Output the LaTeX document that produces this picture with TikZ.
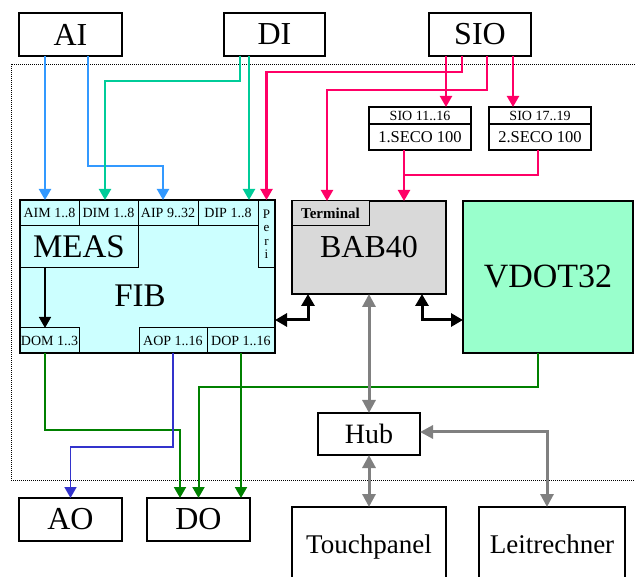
\documentclass[tikz,border=0pt]{standalone}
\usepackage{fontspec}
\setmainfont{Liberation Serif}
\usetikzlibrary{calc, positioning, arrows.meta}

\definecolor{fibcyan}{HTML}{CCFFFF}
\definecolor{babgray}{HTML}{D9D9D9}
\definecolor{vdotgreen}{HTML}{99FFCC}
\definecolor{aiblue}{HTML}{3399FF}
\definecolor{digreen}{HTML}{00CC99}
\definecolor{siopink}{HTML}{FF0066}
\definecolor{dogreen}{HTML}{008000}
\definecolor{aoblue}{HTML}{3333CC}
\definecolor{netgray}{HTML}{808080}

\begin{document}
\begin{tikzpicture}[
    x=1pt, y=1pt,
    box/.style={
        rectangle,
        draw,
        line width=1.3pt,
        inner sep=0pt,
        outer sep=0pt,
        anchor=north west,
        align=center
    },
    iobox/.style={
        box,
        minimum width=103pt,
        minimum height=43pt,
        font=\fontsize{32}{36}\selectfont
    },
    slot/.style={
        box,
        line width=1pt,
        minimum height=26pt,
        font=\fontsize{14}{15}\selectfont
    },
    pcbox/.style={
        box,
        minimum height=80pt,
        text height=19pt,
        text depth=6pt,
        font=\fontsize{27}{30}\selectfont
    },
    aiarr/.style={-{Triangle[length=11pt, width=12pt]}, line width=2.1pt, aiblue},
    diarr/.style={-{Triangle[length=11pt, width=12pt]}, line width=2.1pt, digreen},
    sioarr/.style={-{Triangle[length=11pt, width=12pt]}, line width=2.1pt, siopink},
    sioline/.style={line width=2.1pt, siopink},
    doarr/.style={-{Triangle[length=11pt, width=12pt]}, line width=2pt, dogreen},
    aoarr/.style={-{Triangle[length=11pt, width=12pt]}, line width=1.6pt, aoblue},
    ctrlarr/.style={{Triangle[length=12pt, width=13pt]}-{Triangle[length=12pt, width=13pt]}, line width=3pt},
    netarr/.style={{Triangle[length=13pt, width=13pt]}-{Triangle[length=13pt, width=13pt]}, line width=3pt, netgray}
]
\useasboundingbox (0,0) rectangle (635,-577);

% Frame
\draw[line width=0.8pt, dash pattern=on 1pt off 1pt] (635,-64) -| (11,-480) -- (635,-480);

% Signal sources
\node[iobox] (ai) at (19,-13) {AI};
\node[iobox, minimum width=101pt] (di) at (224,-13) {DI};
\node[iobox, minimum width=102pt] (sio) at (429,-13) {SIO};

% SECO modules
\node[box, minimum width=102pt, minimum height=17pt, font=\fontsize{14}{15}\selectfont] (seco1head) at (369,-107) {SIO 11..16};
\node[box, minimum width=102pt, minimum height=26pt, font=\fontsize{16.5}{18}\selectfont] (seco1) at (369,-124) {1.SECO 100};
\node[box, minimum width=102pt, minimum height=17pt, font=\fontsize{14}{15}\selectfont] (seco2head) at (489,-107) {SIO 17..19};
\node[box, minimum width=102pt, minimum height=26pt, font=\fontsize{16.5}{18}\selectfont] (seco2) at (489,-124) {2.SECO 100};

% FIB
\node[box, fill=fibcyan, minimum width=255pt, minimum height=153pt] (fib) at (20,-200) {};
\node[font=\fontsize{33}{36}\selectfont] (fibtext) at (140,-296) {FIB};
\node[slot, minimum width=59pt] (aim) at (20,-200) {AIM 1..8};
\node[slot, minimum width=59pt] (dim) at (79,-200) {DIM 1..8};
\node[slot, minimum width=60pt] (aip) at (138,-200) {AIP 9..32};
\node[slot, minimum width=60pt] (dip) at (198,-200) {DIP 1..8};
\node[slot, minimum width=17pt, minimum height=68pt, font=\fontsize{13}{13.5}\selectfont] (peri) at (258,-200) {P\\e\\r\\i};
\node[slot, minimum width=118pt, minimum height=42pt, font=\fontsize{33}{36}\selectfont] (meas) at (20,-226) {MEAS};
\node[slot, minimum width=59pt, minimum height=25pt] (dom) at (20,-328) {DOM 1..3};
\node[slot, minimum width=68pt, minimum height=25pt] (aop) at (139,-328) {AOP 1..16};
\node[slot, minimum width=68pt, minimum height=25pt] (dop) at (207,-328) {DOP 1..16};

% BAB40 and VDOT32
\node[box, fill=babgray, minimum width=154pt, minimum height=93pt, font=\fontsize{32}{36}\selectfont] (bab) at (292,-201) {\rule{0pt}{18pt}BAB40};
\node[slot, fill=babgray, minimum width=77pt, minimum height=25pt, font=\fontsize{15}{16}\selectfont\bfseries] (term) at (292,-201) {Terminal};
\node[box, fill=vdotgreen, minimum width=170pt, minimum height=152pt, font=\fontsize{34}{38}\selectfont] (vdot) at (463,-201) {VDOT32};

% Network
\node[box, minimum width=102pt, minimum height=42pt, font=\fontsize{28}{32}\selectfont] (hub) at (318,-413) {Hub};
\node[pcbox, minimum width=154pt] (touch) at (292,-507) {Touchpanel};
\node[pcbox, minimum width=146pt] (leit) at (479,-507) {Leitrechner};

% Outputs
\node[iobox] (aout) at (19,-498) {AO};
\node[iobox] (dout) at (147,-498) {DO};

% Analog inputs
\draw[aiarr] ([xshift=-25.5pt]ai.south) -- ([xshift=-4.5pt]aim.north);
\draw[aiarr] ([xshift=17.5pt]ai.south) |- ([xshift=-5pt, yshift=34pt]aip.north) -- ([xshift=-5pt]aip.north);

% Digital inputs
\draw[diarr] ([xshift=-34.5pt]di.south) |- ([xshift=-3.5pt, yshift=119pt]dim.north) -- ([xshift=-3.5pt]dim.north);
\draw[diarr] ([xshift=-25.5pt]di.south) -- ([xshift=-25.5pt]di.south |- dip.north);

% Serial lines
\draw[sioarr] ([xshift=-18pt]sio.south) |- ([yshift=128pt]peri.north) -- (peri.north);
\draw[sioarr] ([xshift=7pt]sio.south) |- ([xshift=-42pt, yshift=111pt]bab.north) -- ([xshift=-42pt]bab.north);
\draw[sioarr] ([xshift=-34pt]sio.south) -- ([xshift=-34pt]sio.south |- seco1head.north);
\draw[sioarr] ([xshift=33pt]sio.south) -- ([xshift=33pt]sio.south |- seco2head.north);
\draw[sioarr] ([xshift=-16pt]seco1.south) -- ([xshift=-16pt]seco1.south |- bab.north);
\draw[sioline] ([xshift=-2pt]seco2.south) |- ([xshift=-16pt, yshift=-25pt]seco1.south);

% MEAS to DOM
\draw[-{Triangle[length=11pt, width=12pt]}, line width=1.5pt] ([xshift=-4.5pt]dom.north |- meas.south) -- ([xshift=-4.5pt]dom.north);

% Bus links
\draw[ctrlarr] ([yshift=-43.5pt]fib.east) -| ([xshift=-61pt]bab.south);
\draw[ctrlarr] ([xshift=53pt]bab.south) |- ([yshift=-43pt]vdot.west);

% Outputs
\draw[doarr] ([xshift=-4.5pt]dom.south) |- ([xshift=-18.5pt, yshift=68pt]dout.north) -- ([xshift=-18.5pt]dout.north);
\draw[doarr] (dop.south) -- (dop.south |- dout.north);
\draw[doarr] ([xshift=-10pt]vdot.south) |- ([yshift=111pt]dout.north) -- (dout.north);
\draw[aoarr] (aop.south) |- ([yshift=51pt]aout.north) -- (aout.north);

% Ethernet
\draw[netarr] (bab.south) -- (hub.north);
\draw[netarr] (hub.south) -- (touch.north);
\draw[netarr] ([yshift=2pt]hub.east) -| ([xshift=-5pt]leit.north);
\end{tikzpicture}
\end{document}
